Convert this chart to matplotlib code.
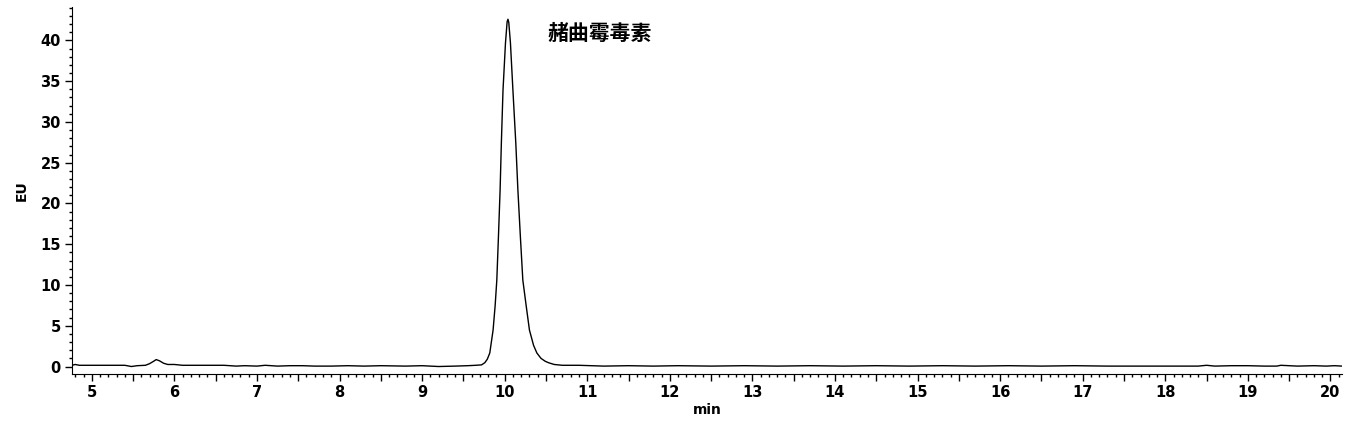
import numpy as np
import matplotlib.pyplot as plt
from matplotlib.ticker import MultipleLocator, FuncFormatter

plt.rcParams['font.family'] = ['Noto Sans CJK SC', 'DejaVu Sans']

# chromatogram (time in min, signal in EU)
t = [4.76, 4.80, 4.85, 5.00, 5.20, 5.40, 5.48, 5.55, 5.65, 5.70, 5.75, 5.78, 5.82, 5.87, 5.92,
     6.00, 6.10, 6.30, 6.60, 6.75, 6.85, 7.00, 7.10, 7.25, 7.40, 7.55, 7.70, 7.90, 8.10, 8.30,
     8.50, 8.80, 9.00, 9.20, 9.40, 9.55, 9.65, 9.72, 9.76, 9.79, 9.82, 9.86, 9.885, 9.905, 9.925, 9.945,
     9.96, 9.98, 10.01, 10.03, 10.04, 10.05, 10.07, 10.10, 10.135, 10.16, 10.19, 10.22, 10.26, 10.30,
     10.35, 10.39, 10.44, 10.49, 10.53, 10.60, 10.70, 10.90, 11.20, 11.50, 11.80, 12.10, 12.50, 12.90,
     13.30, 13.70, 14.10, 14.50, 14.90, 15.30, 15.70, 16.10, 16.50, 16.90, 17.30, 17.70,
     18.10, 18.40, 18.50, 18.60, 18.80, 19.00, 19.20, 19.35, 19.40, 19.60, 19.80, 19.95,
     20.05, 20.14]
eu = [0.15, 0.25, 0.15, 0.15, 0.15, 0.15, 0.0, 0.1, 0.15, 0.35, 0.65, 0.85, 0.7, 0.4, 0.25,
      0.25, 0.15, 0.15, 0.15, 0.05, 0.1, 0.05, 0.15, 0.05, 0.1, 0.1, 0.05, 0.05, 0.1, 0.05,
      0.1, 0.05, 0.1, 0.0, 0.05, 0.1, 0.15, 0.2, 0.47, 0.9, 1.66, 4.48, 7.5, 10.6, 16.0, 21.7,
      27.4, 33.9, 39.7, 42.3, 42.6, 42.2, 39.7, 33.9, 27.4, 21.7, 16.0, 10.6, 7.5, 4.48,
      2.6, 1.66, 1.0, 0.65, 0.47, 0.25, 0.15, 0.15, 0.05, 0.1, 0.05, 0.1, 0.05, 0.1,
      0.05, 0.1, 0.05, 0.1, 0.05, 0.1, 0.05, 0.1, 0.05, 0.1, 0.05, 0.05,
      0.05, 0.05, 0.15, 0.05, 0.1, 0.1, 0.05, 0.05, 0.15, 0.05, 0.1, 0.05,
      0.1, 0.05]

peak_name = '赭曲霉毒素'
peak_pos = (10.52, 40.9)

fig = plt.figure(figsize=(13.55, 4.30), dpi=100)
ax = fig.add_axes([0.0531, 0.1302, 0.9373, 0.8535])

ax.plot(t, eu, color='black', lw=1.0)
ax.text(peak_pos[0], peak_pos[1], peak_name, fontsize=15, fontweight='bold',
        ha='left', va='center')

ax.set_xlim(4.76, 20.14)
ax.set_ylim(-0.92, 44.1)

for s in ['top', 'right']:
    ax.spines[s].set_visible(False)

ax.xaxis.set_major_locator(MultipleLocator(0.5))
ax.xaxis.set_minor_locator(MultipleLocator(0.1))
ax.xaxis.set_major_formatter(FuncFormatter(lambda v, p: f'{v:.0f}' if abs(v - round(v)) < 1e-6 else ''))
ax.yaxis.set_major_locator(MultipleLocator(5))
ax.yaxis.set_minor_locator(MultipleLocator(1))

ax.tick_params(which='major', length=5, width=1, pad=3)
ax.tick_params(which='minor', length=2.5, width=1)
for lab in ax.get_xticklabels() + ax.get_yticklabels():
    lab.set_fontfamily('DejaVu Sans')
    lab.set_fontweight('bold')
    lab.set_fontsize(10.5)

ax.set_xlabel('min', fontsize=10, fontweight='bold', family='DejaVu Sans', labelpad=2)
ax.set_ylabel('EU', fontsize=10, fontweight='bold', family='DejaVu Sans', labelpad=8)

fig.savefig('out.png', dpi=100)
